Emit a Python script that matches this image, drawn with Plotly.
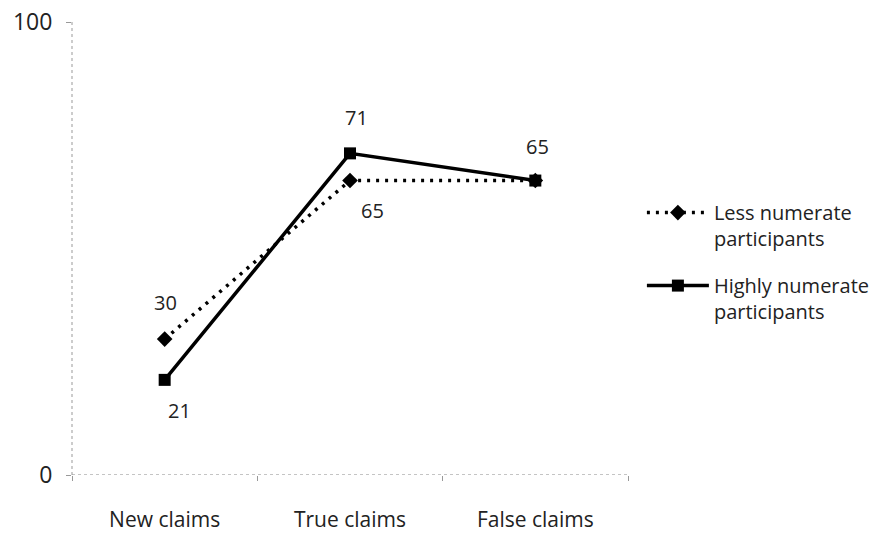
import plotly.graph_objects as go

categories = ["New claims", "True claims", "False claims"]
less_numerate = [30, 65, 65]
highly_numerate = [21, 71, 65]
series_names = ["Less numerate<br>participants", "Highly numerate<br>participants"]
y_ticks = [0, 100]

FONT = "Open Sans"

fig = go.Figure()

fig.add_trace(go.Scatter(
    x=categories, y=less_numerate, name=series_names[0], legendgroup="less",
    mode="lines+markers",
    line=dict(color="black", width=3.5, dash="3px,6px"),
    marker=dict(symbol="diamond", size=12, color="black"),
))
fig.add_trace(go.Scatter(
    x=categories, y=highly_numerate, name=series_names[1], legendgroup="high",
    mode="lines+markers",
    line=dict(color="black", width=3.5),
    marker=dict(symbol="square", size=12, color="black"),
))

# value labels: (series, index, x shift, y shift)
label_specs = [
    (less_numerate, 0, 1, 37),
    (highly_numerate, 0, 15, -31),
    (highly_numerate, 1, 6, 36),
    (less_numerate, 1, 22, -30),
    (highly_numerate, 2, 2, 34),
]
for vals, i, dx, dy in label_specs:
    fig.add_annotation(
        x=categories[i], y=vals[i], text=str(vals[i]),
        showarrow=False, xshift=dx, yshift=dy,
        font=dict(family=FONT, size=20, color="#222"),
    )

# dotted axis lines
fig.add_shape(type="line", xref="x domain", yref="y", x0=0, x1=1, y0=0, y1=0,
              line=dict(color="#888", width=1, dash="dot"))
fig.add_shape(type="line", xref="x domain", yref="y", x0=0, x1=0, y0=0, y1=100,
              line=dict(color="#999", width=1, dash="dot"))

fig.update_layout(
    width=895, height=534,
    paper_bgcolor="white", plot_bgcolor="white",
    margin=dict(l=72, r=267, t=22, b=59),
    font=dict(family=FONT, size=20, color="#222"),
    legend=dict(
        x=1.025, xanchor="left", y=0.47, yanchor="middle",
        itemwidth=62, tracegroupgap=18, valign="top",
        font=dict(family=FONT, size=20, color="#222"),
    ),
    xaxis=dict(
        range=[-0.5, 2.5], showgrid=False, zeroline=False, showline=False,
        ticks="outside", tickson="boundaries", ticklen=5, tickcolor="#999",
        ticklabelstandoff=30, automargin=False,
        tickfont=dict(family=FONT, size=21, color="#222"),
    ),
    yaxis=dict(
        range=[0, 100], tickvals=y_ticks, showgrid=False, zeroline=False, showline=False,
        ticks="outside", ticklen=5, tickcolor="#999", ticklabelstandoff=9,
        automargin=False,
        tickfont=dict(family=FONT, size=23, color="#222"),
    ),
)

fig.write_html("out.html")
